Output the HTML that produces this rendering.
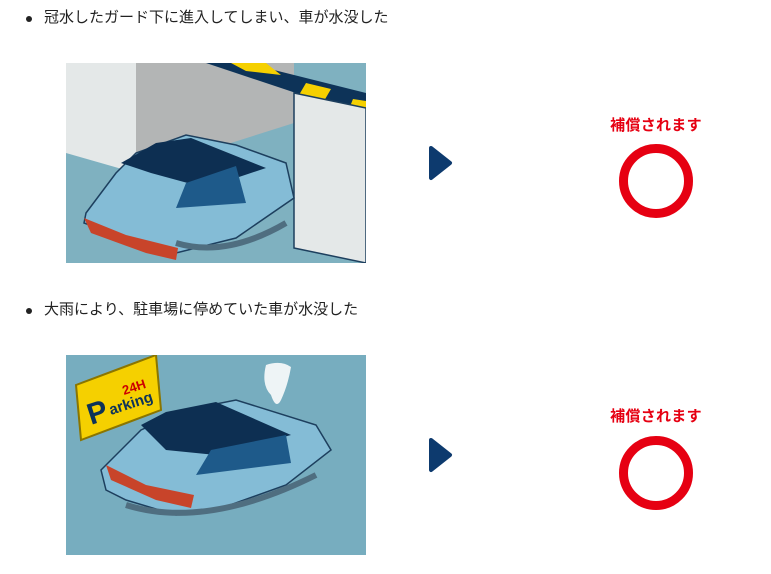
<!DOCTYPE html>
<html><head><meta charset="utf-8"><style>
body{margin:0;width:771px;height:574px;background:#fff;position:relative;overflow:hidden;font-family:"Liberation Sans","Noto Sans CJK JP",sans-serif;}
.t{position:absolute;left:44px;font-size:15px;color:#222;line-height:20px}
.dot{position:absolute;left:26px;width:6px;height:6px;border-radius:50%;background:#222}
.img{position:absolute;left:66px;width:300px;height:200px}
.arr{position:absolute;left:428px}
.lbl{position:absolute;left:591px;width:130px;text-align:center;color:#e60012;font-weight:bold;font-size:15px;letter-spacing:0.3px}
.c{position:absolute;left:619px;width:56px;height:56px;border:9px solid #e60012;border-radius:50%}
</style></head><body>
<div class="dot" style="top:16px"></div><div class="t" style="top:8px">冠水したガード下に進入してしまい、車が水没した</div>
<svg class="img" style="top:63px" viewBox="0 0 300 200">
<rect width="300" height="200" fill="#7fb1c0"/>
<polygon points="70,0 228,0 228,60 70,110" fill="#b3b5b5"/>
<polygon points="0,0 70,0 70,110 0,90" fill="#e4e8e8"/>
<polygon points="140,0 180,0 300,30 300,48 230,30" fill="#0d3358"/>
<polygon points="165,0 200,0 215,12 180,8" fill="#f5d000"/>
<polygon points="240,20 265,26 258,38 233,32" fill="#f5d000"/>
<polygon points="287,36 300,38 300,50 283,46" fill="#f5d000"/>
<polygon points="228,30 300,45 300,200 228,185" fill="#e4e8e8" stroke="#1d3f5e" stroke-width="1.5"/>
<polygon points="20,150 50,110 70,90 120,72 170,82 220,100 228,135 170,175 110,190 60,175 18,160" fill="#84bcd6" stroke="#1d3f5e" stroke-width="1.5"/>
<polygon points="55,100 90,80 125,75 200,105 140,125 85,110" fill="#0d2f52"/>
<polygon points="110,145 120,120 170,103 180,140" fill="#1e5a8a"/>
<polygon points="18,155 25,170 80,190 110,197 112,185 60,172" fill="#c8442a"/>
<path d="M110,180 Q160,195 220,160" stroke="#4f6e80" stroke-width="6" fill="none"/>
</svg>
<svg class="arr" style="top:145px" width="25" height="36" viewBox="0 0 25 36"><path d="M3,3 L22,18 L3,33 Z" fill="#0d3a6e" stroke="#0d3a6e" stroke-width="4" stroke-linejoin="round"/></svg>
<div class="lbl" style="top:114px">補償されます</div>
<div class="c" style="top:144px"></div>

<div class="dot" style="top:308px"></div><div class="t" style="top:300px">大雨により、駐車場に停めていた車が水没した</div>
<svg class="img" style="top:355px" viewBox="0 0 300 200">
<rect width="300" height="200" fill="#77adbf"/>
<polygon points="10,30 90,0 95,55 15,85" fill="#f5d000" stroke="#8a7500" stroke-width="2"/>
<text x="25" y="70" font-family="Liberation Sans" font-weight="bold" font-size="30" fill="#0d3358" transform="rotate(-18 25 70)">P</text>
<text x="45" y="60" font-family="Liberation Sans" font-weight="bold" font-size="15" fill="#0d3358" transform="rotate(-18 45 60)">arking</text>
<text x="58" y="40" font-family="Liberation Sans" font-weight="bold" font-size="13" fill="#c00" transform="rotate(-18 58 40)">24H</text>
<path d="M200,10 Q215,5 225,12 Q222,30 215,45 Q210,55 205,40 Q195,30 200,10Z" fill="#eef4f6"/>
<polygon points="35,115 75,75 120,55 170,45 250,70 265,95 220,130 150,155 110,160 60,145 40,135" fill="#84bcd6" stroke="#1d3f5e" stroke-width="1.5"/>
<polygon points="75,70 100,57 150,47 225,80 150,100 100,95" fill="#0d2f52"/>
<polygon points="130,120 145,95 220,80 225,108" fill="#1e5a8a"/>
<polygon points="40,110 45,125 90,145 125,153 128,140 80,130" fill="#c8442a"/>
<path d="M60,150 Q140,175 250,120" stroke="#4f6e80" stroke-width="6" fill="none"/>
</svg>
<svg class="arr" style="top:437px" width="25" height="36" viewBox="0 0 25 36"><path d="M3,3 L22,18 L3,33 Z" fill="#0d3a6e" stroke="#0d3a6e" stroke-width="4" stroke-linejoin="round"/></svg>
<div class="lbl" style="top:405px">補償されます</div>
<div class="c" style="top:436px"></div>
</body></html>
